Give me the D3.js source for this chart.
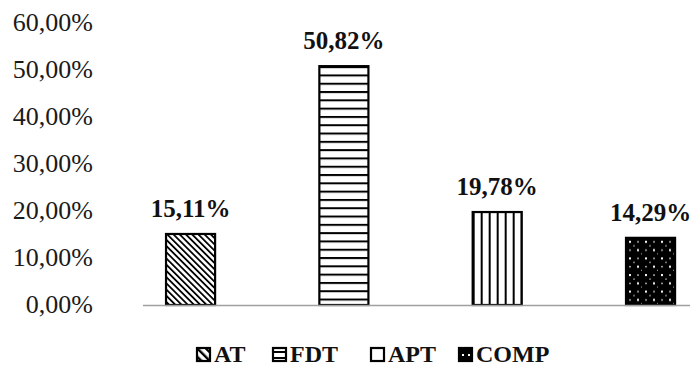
<!DOCTYPE html>
<html>
<head>
<meta charset="utf-8">
<script src="https://cdn.jsdelivr.net/npm/d3@7/dist/d3.min.js"></script>
<style>
  html, body { margin: 0; padding: 0; background: #fff; }
  svg { display: block; }
</style>
</head>
<body>
<svg id="chart" width="694" height="367"></svg>
<script>
// Share of each category (percent)
const categories = ["AT", "FDT", "APT", "COMP"];
const values = [15.11, 50.82, 19.78, 14.29];
const yTicks = [0, 10, 20, 30, 40, 50, 60];

const FONT = '"Liberation Serif", "Times New Roman", Times, serif';
const fmt = v => v.toFixed(2).replace(".", ",") + "%";

const svg = d3.select("#chart");

const x = d3.scaleBand()
  .domain(categories)
  .range([113.9, 727.2])
  .paddingInner(0.68)
  .paddingOuter(0.34);

const y = d3.scaleLinear().domain([0, 60]).range([305, 23]);

// Fill patterns, one per category
const defs = svg.append("defs");

function diagPattern(id) {
  const p = defs.append("pattern").attr("id", id)
    .attr("patternUnits", "userSpaceOnUse")
    .attr("width", 4.4).attr("height", 4.4)
    .attr("patternTransform", "rotate(-45)");
  p.append("rect").attr("width", 4.4).attr("height", 4.4).attr("fill", "#fff");
  p.append("rect").attr("x", 0).attr("width", 1.8).attr("height", 4.4).attr("fill", "#000");
}
function hPattern(id, y0) {
  const p = defs.append("pattern").attr("id", id)
    .attr("patternUnits", "userSpaceOnUse")
    .attr("y", y0).attr("width", 10).attr("height", 8.3);
  p.append("rect").attr("width", 10).attr("height", 8.3).attr("fill", "#fff");
  p.append("rect").attr("y", 0).attr("width", 10).attr("height", 2).attr("fill", "#000");
}
function vPattern(id, x0) {
  const p = defs.append("pattern").attr("id", id)
    .attr("patternUnits", "userSpaceOnUse")
    .attr("x", x0).attr("width", 8).attr("height", 10);
  p.append("rect").attr("width", 8).attr("height", 10).attr("fill", "#fff");
  p.append("rect").attr("x", 0).attr("width", 2).attr("height", 10).attr("fill", "#000");
}
function dotPattern(id, x0, y0) {
  const p = defs.append("pattern").attr("id", id)
    .attr("patternUnits", "userSpaceOnUse")
    .attr("x", x0).attr("y", y0).attr("width", 16).attr("height", 16.6);
  p.append("rect").attr("width", 16).attr("height", 16.6).attr("fill", "#000");
  [[4, 4, 2], [12, 4, 1.4], [4, 12.3, 1.4], [12, 12.3, 2], [8, 8, 1.2], [16, 16, 1.2]].forEach(([cx, cy, s]) => {
    p.append("rect").attr("x", cx - s / 2).attr("y", cy - s / 2)
      .attr("width", s).attr("height", s).attr("fill", "#fff");
  });
}

const fills = {};
categories.forEach((c, i) => {
  const id = "pat-" + c;
  const bx = x(c), by = y(values[i]);
  if (c === "AT") diagPattern(id);
  else if (c === "FDT") hPattern(id, by);
  else if (c === "APT") vPattern(id, bx);
  else dotPattern(id, bx, by);
  fills[c] = "url(#" + id + ")";
});

// Legend swatch patterns
const legendX = [196, 272, 370, 458];
const legendY = 347;
const swatch = 15;
categories.forEach((c, i) => {
  const id = "lpat-" + c;
  const lx = legendX[i];
  if (c === "AT") {
    const p = defs.append("pattern").attr("id", id)
      .attr("patternUnits", "userSpaceOnUse").attr("width", 6).attr("height", 6)
      .attr("patternTransform", "rotate(-45)");
    p.append("rect").attr("width", 6).attr("height", 6).attr("fill", "#fff");
    p.append("rect").attr("width", 2.4).attr("height", 6).attr("fill", "#000");
  } else if (c === "FDT") {
    const p = defs.append("pattern").attr("id", id)
      .attr("patternUnits", "userSpaceOnUse").attr("y", legendY + 4).attr("width", 10).attr("height", 6);
    p.append("rect").attr("width", 10).attr("height", 6).attr("fill", "#fff");
    p.append("rect").attr("width", 10).attr("height", 2).attr("fill", "#000");
  } else if (c === "APT") {
    const p = defs.append("pattern").attr("id", id)
      .attr("patternUnits", "userSpaceOnUse").attr("width", 20).attr("height", 20);
    p.append("rect").attr("width", 20).attr("height", 20).attr("fill", "#fff");
  } else {
    const p = defs.append("pattern").attr("id", id)
      .attr("patternUnits", "userSpaceOnUse").attr("x", lx).attr("y", legendY)
      .attr("width", 15).attr("height", 15);
    p.append("rect").attr("width", 15).attr("height", 15).attr("fill", "#000");
    [[4, 7], [10, 7]].forEach(([a, b]) =>
      p.append("rect").attr("x", a).attr("y", b).attr("width", 2).attr("height", 2).attr("fill", "#fff"));
  }
});

// Y-axis tick labels
svg.append("g").selectAll("text")
  .data(yTicks)
  .join("text")
  .attr("x", 93)
  .attr("y", d => y(d) + 8)
  .attr("text-anchor", "end")
  .style("font-family", FONT)
  .style("font-size", "26px")
  .style("fill", "#1a1a1a")
  .text(d => fmt(d));

// Bars
svg.append("g").selectAll("rect")
  .data(categories)
  .join("rect")
  .attr("x", d => x(d))
  .attr("y", (d, i) => y(values[i]))
  .attr("width", x.bandwidth())
  .attr("height", (d, i) => y(0) - y(values[i]))
  .attr("fill", d => fills[d])
  .attr("stroke", "#000")
  .attr("stroke-width", 2.2);

// Baseline
svg.append("line")
  .attr("x1", 143).attr("x2", 690)
  .attr("y1", y(0) + 0.5).attr("y2", y(0) + 0.5)
  .attr("stroke", "#a0a0a0")
  .attr("stroke-width", 1.5);

// Value labels
svg.append("g").selectAll("text")
  .data(categories)
  .join("text")
  .attr("x", d => x(d) + x.bandwidth() / 2)
  .attr("y", (d, i) => y(values[i]) - 17)
  .attr("text-anchor", "middle")
  .style("font-family", FONT)
  .style("font-size", "25px")
  .style("font-weight", "bold")
  .style("fill", "#111")
  .text((d, i) => fmt(values[i]));

// Legend
const lg = svg.append("g");
categories.forEach((c, i) => {
  lg.append("rect")
    .attr("x", legendX[i] + 1).attr("y", legendY + 1)
    .attr("width", swatch - 2).attr("height", swatch - 2)
    .attr("fill", "url(#lpat-" + c + ")")
    .attr("stroke", "#000").attr("stroke-width", 2.2);
  lg.append("text")
    .attr("x", legendX[i] + 18)
    .attr("y", legendY + 15)
    .style("font-family", FONT)
    .style("font-size", "24px")
    .style("font-weight", "bold")
    .style("fill", "#111")
    .text(c);
});
</script>
</body>
</html>
